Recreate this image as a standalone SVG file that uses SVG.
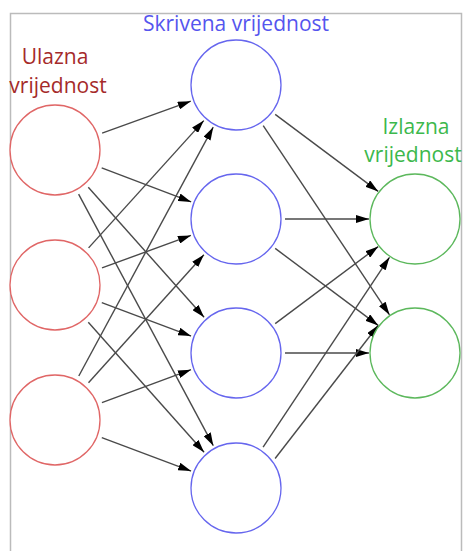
<svg xmlns="http://www.w3.org/2000/svg" width="463" height="551" viewBox="0 0 463 551">
<style>
.in{fill:#fff;stroke:#e06666;stroke-width:1.3}
.hid{fill:#fff;stroke:#6666ee;stroke-width:1.3}
.out{fill:#fff;stroke:#5cb85c;stroke-width:1.3}
.lbl{font-family:"Open Sans","Noto Sans",sans-serif;font-size:21px;text-anchor:middle}
#edges line{stroke:#4a4a4a;stroke-width:1.4;marker-end:url(#ah)}
</style>
<defs>
<marker id="ah" markerUnits="userSpaceOnUse" markerWidth="13" markerHeight="8" refX="13" refY="4" orient="auto">
<path d="M0,0 L13,4 L0,8 z" fill="#000"/>
</marker>
</defs>
<rect x="0" y="0" width="463" height="551" fill="#fff"/>
<path d="M10.5,551 V13.5 H461.5 V551" fill="none" stroke="#bbb" stroke-width="1.5"/>
<g id="labels">
<text class="lbl" x="236" y="31" fill="#5555ee">Skrivena vrijednost</text>
<text class="lbl" x="55" y="64" fill="#a52a2a">Ulazna</text>
<text class="lbl" x="58" y="93" fill="#a52a2a">vrijednost</text>
<text class="lbl" x="416" y="134" fill="#3cb84c">Izlazna</text>
<text class="lbl" x="413" y="162" fill="#3cb84c">vrijednost</text>
</g>
<g id="edges">
<line x1="102.1" y1="133.1" x2="190.8" y2="101.2"/>
<line x1="101.7" y1="167.8" x2="191.2" y2="201.9"/>
<line x1="88.3" y1="187.3" x2="204.1" y2="317.2"/>
<line x1="78.6" y1="194.1" x2="213.3" y2="445.7"/>
<line x1="88.6" y1="247.9" x2="203.8" y2="120.6"/>
<line x1="102.0" y1="267.9" x2="190.9" y2="235.4"/>
<line x1="101.8" y1="302.6" x2="191.1" y2="336.1"/>
<line x1="88.3" y1="322.3" x2="204.1" y2="452.2"/>
<line x1="78.8" y1="376.0" x2="213.2" y2="127.2"/>
<line x1="88.5" y1="382.8" x2="203.9" y2="254.7"/>
<line x1="101.9" y1="402.6" x2="191.0" y2="369.7"/>
<line x1="101.8" y1="437.6" x2="191.1" y2="471.1"/>
<line x1="275.2" y1="114.4" x2="378.2" y2="191.4"/>
<line x1="263.2" y1="125.7" x2="389.5" y2="314.8"/>
<line x1="285" y1="219" x2="369" y2="219"/>
<line x1="275.2" y1="248.4" x2="378.2" y2="325.4"/>
<line x1="275.2" y1="323.6" x2="378.2" y2="246.6"/>
<line x1="285" y1="353" x2="369" y2="353"/>
<line x1="263.1" y1="447.2" x2="389.5" y2="257.3"/>
<line x1="275.1" y1="458.5" x2="378.3" y2="325.3"/>
</g>
<g id="in1"><circle class="in" cx="55" cy="150" r="45"/></g>
<g id="in2"><circle class="in" cx="55" cy="285" r="45"/></g>
<g id="in3"><circle class="in" cx="55" cy="420" r="45"/></g>
<g id="h1"><circle class="hid" cx="236" cy="85" r="45"/></g>
<g id="h2"><circle class="hid" cx="236" cy="219" r="45"/></g>
<g id="h3"><circle class="hid" cx="236" cy="353" r="45"/></g>
<g id="h4"><circle class="hid" cx="236" cy="488" r="45"/></g>
<g id="o1"><circle class="out" cx="415" cy="219" r="45"/></g>
<g id="o2"><circle class="out" cx="415" cy="353" r="45"/></g>
</svg>
